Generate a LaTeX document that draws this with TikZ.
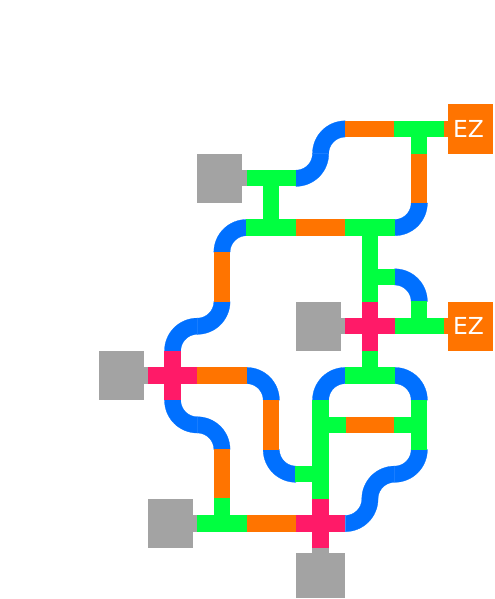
\documentclass[tikz,border=0pt]{standalone}
\usepackage{fontspec}
\setmainfont{DejaVu Sans}
\usetikzlibrary{calc}
\definecolor{tubebleu}{HTML}{0070FF}
\definecolor{tubeorange}{HTML}{FF7400}
\definecolor{tubevert}{HTML}{00FF40}
\definecolor{tuberose}{HTML}{FF1A68}
\definecolor{portgris}{HTML}{A3A3A3}
\tikzset{
  portbox/.style={fill=portgris,inner sep=0pt,outer sep=0pt,minimum width=#1},
  ezbox/.style={fill=tubeorange,text=white,inner sep=0pt,outer sep=0pt,minimum width=0.912cm,minimum height=1cm,font=\fontsize{13.5}{13.5}\selectfont}
}
\begin{document}
\begin{tikzpicture}[x=1cm,y=1cm]
  \useasboundingbox (-0.5,-0.53) rectangle (9.534,11.614);
  % coudes : colonne / rangee / angle de depart du quart d'anneau
  \foreach \c/\r/\a [evaluate=\a as \b using int(\a+90)] in {%
    6/8/270, 6/9/90, 4/7/90, 8/7/270,
    8/6/0, 6/4/90, 8/4/0, 8/2/270,
    7/2/90, 7/1/270, 5/2/180, 5/4/0,
    3/5/90, 4/5/270, 3/3/180, 4/3/0} {
    \filldraw[tubebleu,line width=.15pt,shift={($(\c,\r)+(\a+225:.7071)$)}] plot[domain=\a:\b,samples=17] (\x:.665)
      -- plot[domain=\b:\a,samples=17] (\x:.335) -- cycle;
  }
  % droites orange : colonne / rangee / angle
  \foreach \c/\r/\a in {7/9/0,6/7/0,4/4/0,7/3/0,5/1/0,8/8/90,4/6/90,5/3/90,4/2/90}
    \fill[tubeorange,shift={(\c,\r)},rotate=\a] (-.51,-.165) rectangle (.51,.165);
  % droites vertes
  \foreach \c/\r/\a in {8/9/0,5/8/0,5/7/0,7/7/0,8/5/0,7/4/0,4/1/0,7/6/90,6/3/90,8/3/90,6/2/90}
    \fill[tubevert,shift={(\c,\r)},rotate=\a] (-.51,-.165) rectangle (.51,.165);
  % branches des T
  \foreach \c/\r/\a in {8/9/270,5/8/270,5/7/90,7/7/270,7/6/0,8/5/90,7/4/90,6/3/0,8/3/180,6/2/180,4/1/90}
    \fill[tubevert,shift={(\c,\r)},rotate=\a] (0,-.165) rectangle (.51,.165);
  % croix
  \foreach \c/\r in {7/5,3/4,6/1} {
    \fill[tuberose] (\c-.5,\r-.165) rectangle (\c+.5,\r+.165);
    \fill[tuberose] (\c-.165,\r-.5) rectangle (\c+.165,\r+.5);
  }
  % ports gris
  \foreach \c/\r/\n in {4/8/porta,6/5/portb,2/4/portc,3/1/portd} {
    \node[portbox=0.912cm,minimum height=1cm,anchor=west] (\n) at (\c-.5,\r) {};
    \fill[portgris] ($(\n.east)+(-.01,-.165)$) rectangle ++(.098,.33);
  }
  \node[portbox=1cm,minimum height=0.912cm,anchor=south] (porte) at (6,-.5) {};
  \fill[portgris] ($(porte.north)+(-.165,-.01)$) rectangle ++(.33,.098);
  % sorties EZ
  \foreach \r/\n in {9/eza,5/ezb} {
    \node[ezbox,anchor=east] (\n) at (9.5,\r) {\hspace*{-.088cm}EZ};
    \fill[tubeorange] ($(\n.west)+(.01,-.165)$) rectangle ++(-.098,.33);
  }
\end{tikzpicture}
\end{document}
